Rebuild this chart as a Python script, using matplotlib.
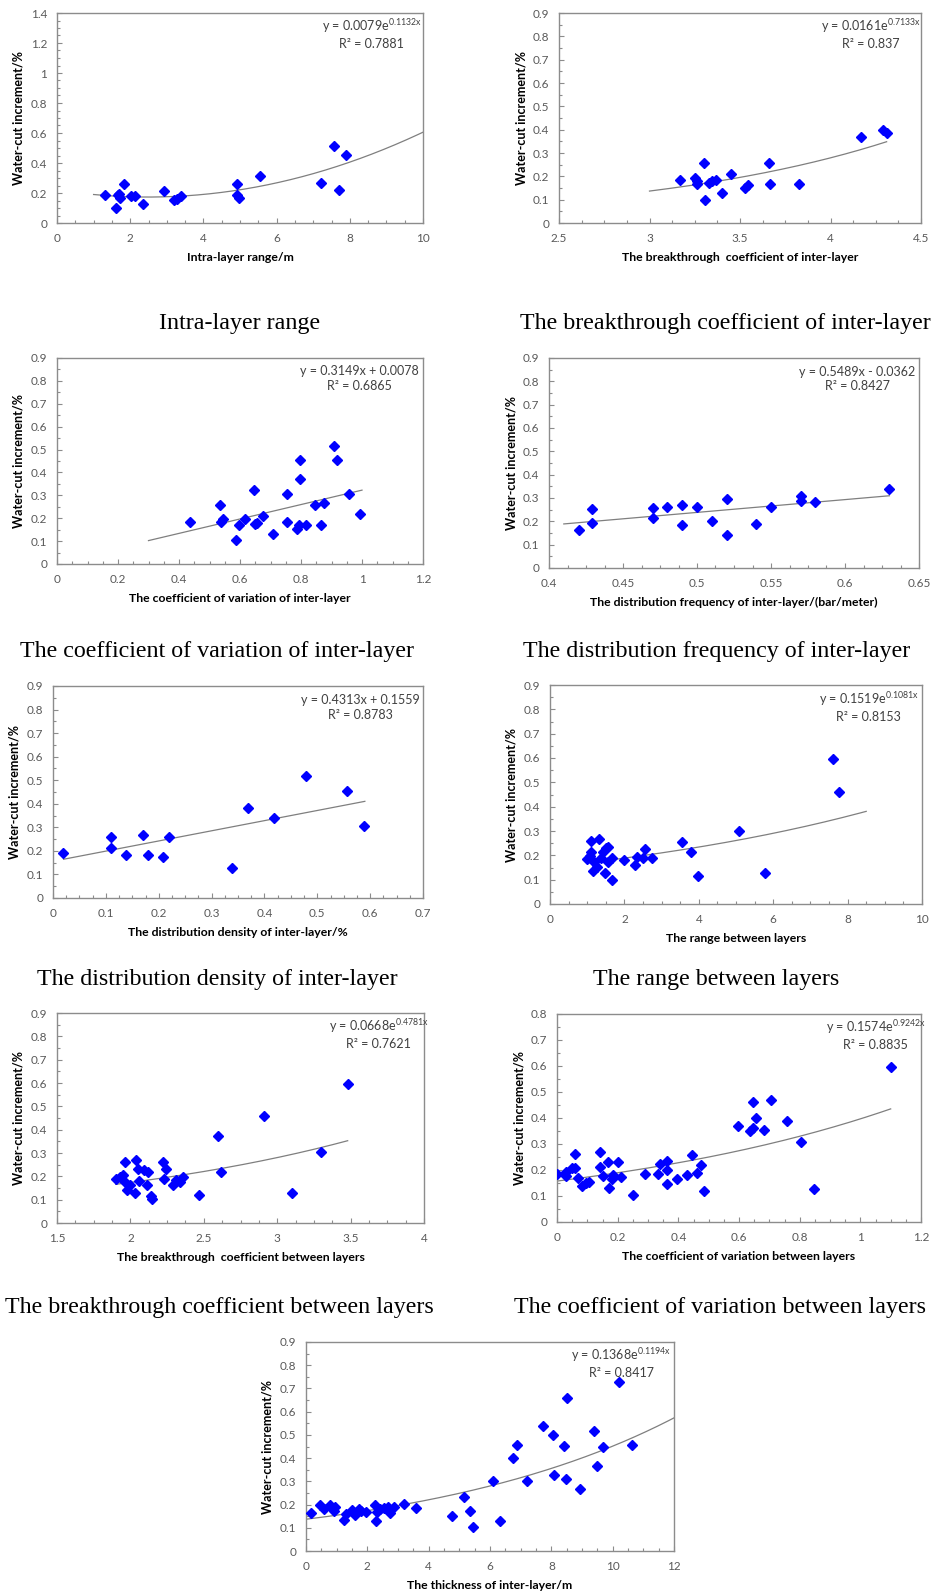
import numpy as np
import matplotlib.pyplot as plt
from matplotlib.ticker import MultipleLocator, AutoMinorLocator, FuncFormatter

plt.rcParams['font.family'] = ['Lato', 'DejaVu Sans']
plt.rcParams['mathtext.default'] = 'regular'

W, H = 936, 1595

# water-cut increment (%) against each heterogeneity parameter
intra_range_x = [1.31, 1.60, 1.66, 1.69, 1.73, 1.84, 2.01, 2.12, 2.35, 2.92, 3.21, 3.29, 3.38,
                 4.91, 4.91, 4.97, 5.56, 7.20, 7.57, 7.70, 7.89]
intra_range_y = [0.184, 0.10, 0.184, 0.196, 0.169, 0.262, 0.178, 0.178, 0.129, 0.211, 0.151, 0.16, 0.178,
                 0.262, 0.184, 0.169, 0.311, 0.267, 0.516, 0.218, 0.456]

bt_inter_x = [3.171, 3.252, 3.260, 3.263, 3.300, 3.307, 3.329, 3.348, 3.368, 3.400, 3.451, 3.529,
              3.543, 3.658, 3.665, 3.827, 4.170, 4.288, 4.312]
bt_inter_y = [0.184, 0.192, 0.178, 0.167, 0.256, 0.100, 0.171, 0.178, 0.184, 0.128, 0.211, 0.150,
              0.162, 0.259, 0.168, 0.168, 0.368, 0.399, 0.387]

cv_inter_x = [0.436, 0.534, 0.537, 0.545, 0.586, 0.596, 0.618, 0.646, 0.648, 0.657, 0.677, 0.707, 0.755,
              0.755, 0.786, 0.795, 0.797, 0.797, 0.817, 0.846, 0.867, 0.876, 0.907, 0.918, 0.958, 0.994]
cv_inter_y = [0.184, 0.257, 0.184, 0.195, 0.104, 0.170, 0.195, 0.324, 0.174, 0.177, 0.210, 0.129, 0.308,
              0.184, 0.152, 0.170, 0.370, 0.453, 0.170, 0.257, 0.170, 0.267, 0.516, 0.453, 0.308, 0.218]

freq_x = [0.420, 0.429, 0.429, 0.470, 0.470, 0.480, 0.490, 0.490, 0.500, 0.510, 0.520, 0.520,
          0.540, 0.550, 0.570, 0.570, 0.580, 0.630]
freq_y = [0.164, 0.254, 0.193, 0.257, 0.214, 0.260, 0.269, 0.183, 0.260, 0.203, 0.297, 0.143,
          0.190, 0.260, 0.309, 0.287, 0.283, 0.340]

dens_x = [0.019, 0.110, 0.110, 0.139, 0.170, 0.180, 0.209, 0.219, 0.339, 0.368, 0.419, 0.479, 0.557, 0.588]
dens_y = [0.193, 0.257, 0.214, 0.182, 0.267, 0.182, 0.172, 0.257, 0.128, 0.380, 0.338, 0.518, 0.453, 0.306]

range_between_x = [1.00, 1.08, 1.11, 1.11, 1.15, 1.18, 1.25, 1.33, 1.36, 1.43, 1.51, 1.56, 1.49, 1.56, 1.66,
                   1.68, 1.99, 2.28, 2.33, 2.49, 2.55, 2.74, 3.55, 3.78, 3.98, 5.09, 5.78, 7.62, 7.76]
range_between_y = [0.184, 0.199, 0.212, 0.259, 0.136, 0.174, 0.153, 0.267, 0.188, 0.212, 0.229, 0.233, 0.126,
                   0.171, 0.099, 0.188, 0.182, 0.160, 0.192, 0.188, 0.226, 0.188, 0.256, 0.215, 0.116,
                   0.301, 0.127, 0.596, 0.459]

bt_between_x = [1.90, 1.93, 1.95, 1.96, 1.96, 1.98, 2.00, 2.03, 2.04, 2.05, 2.06, 2.09, 2.11, 2.12, 2.14,
                2.15, 2.22, 2.23, 2.24, 2.29, 2.31, 2.34, 2.36, 2.47, 2.60, 2.62, 2.91, 3.10, 3.30, 3.48]
bt_between_y = [0.187, 0.196, 0.206, 0.263, 0.177, 0.142, 0.163, 0.127, 0.270, 0.231, 0.180, 0.227, 0.163,
                0.217, 0.117, 0.103, 0.260, 0.189, 0.231, 0.163, 0.184, 0.177, 0.197, 0.120, 0.373,
                0.220, 0.459, 0.130, 0.303, 0.596]

cv_between_x = [0.000, 0.029, 0.031, 0.048, 0.060, 0.060, 0.070, 0.081, 0.095, 0.104, 0.142, 0.142, 0.153,
                0.169, 0.171, 0.181, 0.183, 0.202, 0.210, 0.252, 0.291, 0.333, 0.341, 0.363, 0.363, 0.363,
                0.394, 0.430, 0.444, 0.463, 0.474, 0.483, 0.596, 0.636, 0.645, 0.645, 0.656, 0.684, 0.704,
                0.757, 0.804, 0.848, 1.100]
cv_between_y = [0.186, 0.193, 0.177, 0.206, 0.206, 0.261, 0.171, 0.137, 0.151, 0.154, 0.270, 0.212, 0.177,
                0.231, 0.131, 0.167, 0.180, 0.231, 0.173, 0.103, 0.186, 0.186, 0.225, 0.235, 0.199, 0.148,
                0.167, 0.182, 0.257, 0.190, 0.218, 0.118, 0.370, 0.350, 0.360, 0.460, 0.399, 0.352, 0.470,
                0.388, 0.306, 0.128, 0.598]

thick_x = [0.17, 0.45, 0.58, 0.77, 0.85, 0.90, 0.96, 1.25, 1.31, 1.50, 1.61, 1.72, 1.79, 1.97, 2.24,
           2.28, 2.31, 2.42, 2.53, 2.69, 2.75, 2.86, 3.18, 3.58, 4.77, 5.16, 5.35, 5.46, 6.09, 6.34,
           6.74, 6.87, 7.20, 7.74, 8.07, 8.10, 8.40, 8.48, 8.50, 8.92, 9.39, 9.50, 9.70, 10.22, 10.62]
thick_y = [0.164, 0.197, 0.182, 0.200, 0.185, 0.171, 0.189, 0.132, 0.161, 0.175, 0.156, 0.179, 0.171,
           0.168, 0.197, 0.131, 0.168, 0.182, 0.185, 0.191, 0.165, 0.191, 0.204, 0.185, 0.152, 0.231,
           0.174, 0.102, 0.303, 0.129, 0.402, 0.455, 0.303, 0.537, 0.501, 0.326, 0.452, 0.309, 0.660,
           0.268, 0.515, 0.366, 0.449, 0.728, 0.458]

x_labels = ['Intra-layer range/m', 'The breakthrough  coefficient of inter-layer',
            'The coefficient of variation of inter-layer',
            'The distribution frequency of inter-layer/(bar/meter)',
            'The distribution density of inter-layer/%', 'The range between layers',
            'The breakthrough  coefficient between layers',
            'The coefficient of variation between layers', 'The thickness of inter-layer/m']
captions = ['Intra-layer range', 'The breakthrough coefficient of inter-layer',
            'The coefficient of variation of inter-layer', 'The distribution frequency of inter-layer',
            'The distribution density of inter-layer', 'The range between layers',
            'The breakthrough coefficient between layers', 'The coefficient of variation between layers',
            None]
equations = ['y = 0.0079e$^{0.1132x}$', 'y = 0.0161e$^{0.7133x}$', 'y = 0.3149x + 0.0078',
             'y = 0.5489x - 0.0362', 'y = 0.4313x + 0.1559', 'y = 0.1519e$^{0.1081x}$',
             'y = 0.0668e$^{0.4781x}$', 'y = 0.1574e$^{0.9242x}$', 'y = 0.1368e$^{0.1194x}$']
r_squared = ['0.7881', '0.837', '0.6865', '0.8427', '0.8783', '0.8153', '0.7621', '0.8835', '0.8417']

# trendlines: (kind, coefficients, x start, x end)
trends = [('poly', [0.00766, -0.0381, 0.2204], 1.0, 10.0),
          ('exp', [0.0161, 0.7133], 3.0, 4.31),
          ('poly', [0.3149, 0.0078], 0.3, 1.0),
          ('poly', [0.5489, -0.0362], 0.41, 0.63),
          ('poly', [0.4313, 0.1559], 0.02, 0.59),
          ('exp', [0.1519, 0.1081], 1.0, 8.5),
          ('exp', [0.0668, 0.4781], 1.9, 3.48),
          ('exp', [0.1574, 0.9242], 0.0, 1.1),
          ('exp', [0.1368, 0.1194], 0.0, 12.0)]

series = [(intra_range_x, intra_range_y), (bt_inter_x, bt_inter_y), (cv_inter_x, cv_inter_y),
          (freq_x, freq_y), (dens_x, dens_y), (range_between_x, range_between_y),
          (bt_between_x, bt_between_y), (cv_between_x, cv_between_y), (thick_x, thick_y)]

# axis ranges: (xmin, xmax, xstep, ymax, ystep)
limits = [(0, 10, 2, 1.4, 0.2), (2.5, 4.5, 0.5, 0.9, 0.1), (0, 1.2, 0.2, 0.9, 0.1),
          (0.4, 0.65, 0.05, 0.9, 0.1), (0, 0.7, 0.1, 0.9, 0.1), (0, 10, 2, 0.9, 0.1),
          (1.5, 4, 0.5, 0.9, 0.1), (0, 1.2, 0.2, 0.8, 0.1), (0, 12, 2, 0.9, 0.1)]

# plot-area boxes in pixels: left, right, top, bottom
boxes = [(57, 423, 13, 223), (559, 921, 13, 223),
         (57, 423, 358, 564), (549, 919, 358, 568),
         (53, 423, 686, 898), (550, 922, 685, 904),
         (57, 424, 1013, 1223), (557, 921, 1014, 1222),
         (306, 674, 1342, 1551)]
eq_pos = [0.86, 0.862, 0.825, 0.834, 0.83, 0.857, 0.876, 0.876, 0.856]
cap_pos = [(240, 323), (725, 323), (217, 651), (717, 651),
           (217, 979), (716, 979), (219, 1307), (720, 1307), None]

fig = plt.figure(figsize=(W / 100, H / 100), dpi=100)
fmt = FuncFormatter(lambda v, p: f"{v:g}")
grey = '#8c8c8c'

for i in range(9):
    l, r, t, b = boxes[i]
    ax = fig.add_axes([l / W, 1 - b / H, (r - l) / W, (b - t) / H])
    x, y = series[i]
    ax.plot(x, y, linestyle='none', marker='D', ms=5.3, color='#0000ff', zorder=3)

    kind, c, x0, x1 = trends[i]
    xs = np.linspace(x0, x1, 200)
    ys = np.polyval(c, xs) if kind == 'poly' else c[0] * np.exp(c[1] * xs)
    ax.plot(xs, ys, color='#7f7f7f', lw=0.9, zorder=2)

    xmin, xmax, xstep, ymax, ystep = limits[i]
    ax.set_xlim(xmin, xmax)
    ax.set_ylim(0, ymax)
    ax.xaxis.set_major_locator(MultipleLocator(xstep))
    ax.yaxis.set_major_locator(MultipleLocator(ystep))
    ax.xaxis.set_minor_locator(AutoMinorLocator(4))
    ax.yaxis.set_minor_locator(AutoMinorLocator(4 if ystep == 0.2 else 2))
    ax.xaxis.set_major_formatter(fmt)
    ax.yaxis.set_major_formatter(fmt)
    ax.tick_params(which='both', direction='in', color=grey, width=0.8)
    ax.tick_params(which='major', length=3.5, labelsize=8.5, labelcolor='#595959', pad=7)
    ax.tick_params(which='minor', length=2.5)
    for s in ax.spines.values():
        s.set_color(grey)
        s.set_linewidth(1.0)

    w_px, h_px = r - l, b - t
    ax.set_ylabel('Water-cut increment/%', fontsize=9, fontweight='bold')
    ax.yaxis.set_label_coords(-32 / w_px, 0.5)
    ax.set_xlabel(x_labels[i], fontsize=8.8, fontweight='bold')
    ax.xaxis.set_label_coords(0.5, -29 / h_px)

    ax.text(eq_pos[i], 0.9, equations[i] + '\nR² = ' + r_squared[i], transform=ax.transAxes,
            ha='center', va='center', multialignment='center', fontsize=9, color='#404040',
            linespacing=1.3)

    if cap_pos[i] is not None:
        cx, cy = cap_pos[i]
        fig.text(cx / W, 1 - cy / H, captions[i], ha='center', va='center',
                 family='Liberation Serif', fontsize=17.3)

fig.savefig('out.png', dpi=100, facecolor='white')
